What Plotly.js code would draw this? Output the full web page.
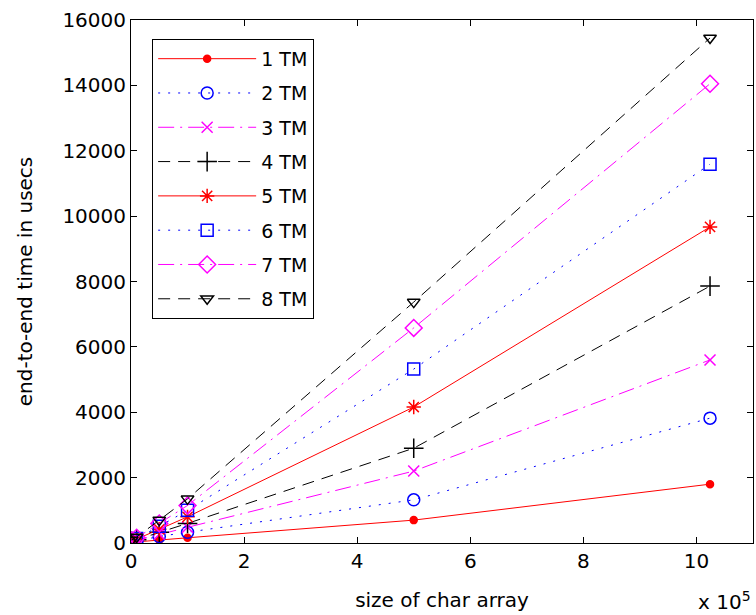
<!DOCTYPE html>
<html>
<head>
<meta charset="utf-8">
<script src="https://cdn.plot.ly/plotly-3.0.1.min.js"></script>
<style>html,body{margin:0;padding:0;background:#fff;}#chart{width:756px;height:615px;}</style>
</head>
<body>
<div id="chart"></div>
<script>
// size of char array (x 10^5)
const sizes = [0.01, 0.1, 0.5, 1, 5, 10.24];
const seriesNames = ["1 TM", "2 TM", "3 TM", "4 TM", "5 TM", "6 TM", "7 TM", "8 TM"];
const tm1 = [20, 30, 90, 160, 700, 1800];
const tm2 = [30, 60, 200, 330, 1320, 3820];
const tm3 = [40, 80, 270, 480, 2200, 5600];
const tm4 = [50, 100, 330, 600, 2900, 7860];
const tm5 = [60, 120, 420, 800, 4160, 9670];
const tm6 = [70, 140, 510, 1000, 5320, 11590];
const tm7 = [80, 160, 600, 1150, 6580, 14050];
const tm8 = [90, 180, 700, 1350, 7370, 15450];
const xTicks = [0, 2, 4, 6, 8, 10];
const yTicks = [0, 2000, 4000, 6000, 8000, 10000, 12000, 14000, 16000];

const allSeries = [tm1, tm2, tm3, tm4, tm5, tm6, tm7, tm8];
const styles = [
  {color: "#ff0000", dash: "solid", symbol: "circle", size: 7},
  {color: "#0000ff", dash: "2px,8px", symbol: "circle-open", size: 12},
  {color: "#ff00ff", dash: "16px,6px,2px,6px", symbol: "x-thin-open", size: 11},
  {color: "#000000", dash: "12px,8px", symbol: "cross-thin-open", size: 14},
  {color: "#ff0000", dash: "solid", symbol: "asterisk-open", size: 12},
  {color: "#0000ff", dash: "2px,8px", symbol: "square-open", size: 12},
  {color: "#ff00ff", dash: "16px,6px,2px,6px", symbol: "diamond-open", size: 13},
  {color: "#000000", dash: "12px,8px", symbol: "triangle-down-open", size: 11}
];

const traces = allSeries.map((ys, i) => ({
  x: sizes,
  y: ys,
  name: seriesNames[i],
  legendgroup: "g" + i,
  type: "scatter",
  mode: "lines+markers",
  line: {color: styles[i].color, width: 1, dash: styles[i].dash},
  marker: {symbol: styles[i].symbol, size: styles[i].size, color: styles[i].color,
           line: {color: styles[i].color, width: 1.5}}
}));

const font = {family: "DejaVu Sans, Arial, sans-serif", size: 20, color: "#000"};

const layout = {
  width: 756, height: 615,
  margin: {l: 131, r: 3, t: 20, b: 72},
  paper_bgcolor: "#fff", plot_bgcolor: "#fff",
  font: font,
  showlegend: true,
  legend: {
    x: 0.034, y: 0.964, xanchor: "left", yanchor: "top",
    bgcolor: "#fff", bordercolor: "#000", borderwidth: 1,
    font: {family: font.family, size: 19, color: "#000"},
    traceorder: "grouped", tracegroupgap: 6.6, itemwidth: 98
  },
  xaxis: {
    range: [0, 11], tickvals: xTicks, ticktext: xTicks.map(String),
    ticks: "inside", ticklen: 6, tickcolor: "#000", mirror: "ticks",
    showline: true, linecolor: "#000", linewidth: 1, showgrid: false, zeroline: false,
    tickfont: font,
    title: {text: "size of char array", font: font, standoff: 20}
  },
  yaxis: {
    range: [0, 16000], tickvals: yTicks, ticktext: yTicks.map(String),
    ticks: "inside", ticklen: 6, tickcolor: "#000", mirror: "ticks",
    showline: true, linecolor: "#000", linewidth: 1, showgrid: false, zeroline: false,
    tickfont: font,
    title: {text: "end-to-end time in usecs", font: font, standoff: 24}
  },
  annotations: [{
    xref: "paper", yref: "paper", x: 1.0, y: -0.11, xanchor: "right", yanchor: "middle",
    text: "x 10<sup>5</sup>", showarrow: false, font: font
  }]
};

Plotly.newPlot("chart", traces, layout, {displayModeBar: false, staticPlot: true});
</script>
</body>
</html>
